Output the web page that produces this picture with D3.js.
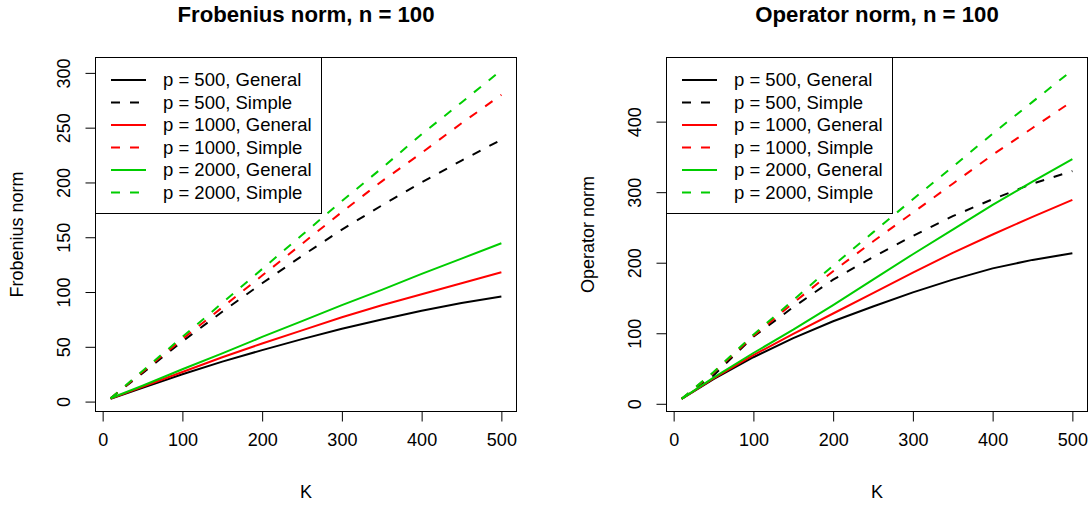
<!DOCTYPE html>
<html>
<head>
<meta charset="utf-8">
<script src="https://cdn.jsdelivr.net/npm/d3@7"></script>
<style>
  html, body { margin: 0; padding: 0; background: #fff; }
  svg { display: block; font-family: "Liberation Sans", Arial, Helvetica, sans-serif; }
</style>
</head>
<body>
<svg id="chart" width="1091" height="506"></svg>
<script>
// ---- data ----
const K = [10, 50, 100, 150, 200, 250, 300, 350, 400, 450, 500];

const seriesLabels = ["p = 500, General", "p = 500, Simple", "p = 1000, General",
                      "p = 1000, Simple", "p = 2000, General", "p = 2000, Simple"];
const seriesColors = ["#000000", "#000000", "#FF0000", "#FF0000", "#00CD00", "#00CD00"];
const seriesDashed = [false, true, false, true, false, true];

// Frobenius norm panel
const frobP500General  = [2.5, 12.5, 25, 36.5, 47, 57, 66.5, 75, 83, 90, 96];
const frobP500Simple   = [3, 26, 55, 82, 108, 133, 157, 179, 200, 220, 239];
const frobP1000General = [2.7, 13.5, 27, 40.5, 53, 65, 77, 88, 98, 108, 118];
const frobP1000Simple  = [3, 27, 57, 86, 115, 144, 173, 201, 227, 254, 280];
const frobP2000General = [3, 14.5, 29.5, 44, 59, 73.5, 88, 102, 116.5, 130.5, 144.5];
const frobP2000Simple  = [3, 28, 59, 90, 121, 152, 183, 213, 244, 273, 302.5];

// Operator norm panel
const opP500General  = [7, 35, 66, 93, 117, 138, 158, 176, 192, 204, 213.5];
const opP500Simple   = [7, 40, 95, 137, 176, 208, 238, 266, 290, 312, 330];
const opP1000General = [7, 36, 69, 99, 128, 157, 186, 214, 240, 265, 289];
const opP1000Simple  = [7, 44, 96, 143, 188, 230, 271, 312, 353, 391, 429];
const opP2000General = [7, 37, 72, 105, 140, 176, 212, 247, 282, 315, 347];
const opP2000Simple  = [7, 45, 98, 147, 196, 243, 290, 336, 383, 428, 473];

const xTicks = [0, 100, 200, 300, 400, 500];
const frobYTicks = [0, 50, 100, 150, 200, 250, 300];
const opYTicks = [0, 100, 200, 300, 400];

const panels = [
  { title: "Frobenius norm, n = 100", yLabel: "Frobenius norm", yTicks: frobYTicks,
    series: [frobP500General, frobP500Simple, frobP1000General, frobP1000Simple, frobP2000General, frobP2000Simple],
    box: { x0: 95, x1: 517, y0: 57, y1: 412 } },
  { title: "Operator norm, n = 100", yLabel: "Operator norm", yTicks: opYTicks,
    series: [opP500General, opP500Simple, opP1000General, opP1000Simple, opP2000General, opP2000Simple],
    box: { x0: 666, x1: 1088, y0: 57, y1: 412 } }
];

const svg = d3.select("#chart");
const FS = 18;
const FSL = 18.5;
const DASH = "9,10";

function rlim(vals) {
  const lo = d3.min(vals), hi = d3.max(vals), r = hi - lo;
  return [lo - 0.04 * r, hi + 0.04 * r];
}

panels.forEach(p => {
  const b = p.box;
  const g = svg.append("g");
  const x = d3.scaleLinear().domain(rlim(K)).range([b.x0, b.x1]);
  const y = d3.scaleLinear().domain(rlim(p.series.flat())).range([b.y1, b.y0]);

  // lines
  const line = d3.line().x((d, i) => x(K[i])).y(d => y(d));
  p.series.forEach((s, i) => {
    g.append("path")
      .datum(s)
      .attr("d", line)
      .attr("fill", "none")
      .attr("stroke", seriesColors[i])
      .attr("stroke-width", 2)
      .attr("stroke-linejoin", "round")
      .attr("stroke-dasharray", seriesDashed[i] ? DASH : null);
  });

  // box
  g.append("rect")
    .attr("x", b.x0 + 0.5).attr("y", b.y0 + 0.5)
    .attr("width", b.x1 - b.x0 - 1).attr("height", b.y1 - b.y0 - 1)
    .attr("fill", "none").attr("stroke", "#000").attr("stroke-width", 1);

  // x axis
  const xa = d3.axisBottom(x).tickValues(xTicks).tickSize(10).tickPadding(12).tickFormat(d3.format("d"));
  const xg = g.append("g").attr("transform", `translate(0,${b.y1 - 0.5})`).call(xa);
  xg.select(".domain").attr("d", `M${x(xTicks[0])},0H${x(xTicks[xTicks.length - 1])}`);
  xg.selectAll("text").attr("font-size", FS).attr("font-family", null).attr("fill", "#000");
  xg.selectAll("line, path").attr("stroke", "#000");

  // y axis
  const ya = d3.axisLeft(y).tickValues(p.yTicks).tickSize(10).tickPadding(0).tickFormat(d3.format("d"));
  const yg = g.append("g").attr("transform", `translate(${b.x0 + 0.5},0)`).call(ya);
  yg.select(".domain").attr("d", `M0,${y(p.yTicks[0])}V${y(p.yTicks[p.yTicks.length - 1])}`);
  yg.selectAll("line, path").attr("stroke", "#000");
  yg.selectAll("text")
    .attr("font-size", FS).attr("font-family", null).attr("fill", "#000")
    .attr("x", null).attr("dy", null)
    .attr("text-anchor", "middle")
    .attr("transform", "translate(-26,0) rotate(-90)");

  // titles
  g.append("text")
    .attr("x", (b.x0 + b.x1) / 2).attr("y", 22)
    .attr("text-anchor", "middle").attr("font-weight", "bold").attr("font-size", FSL * 1.2)
    .text(p.title);
  g.append("text")
    .attr("x", (b.x0 + b.x1) / 2).attr("y", 498)
    .attr("text-anchor", "middle").attr("font-size", FS)
    .text("K");
  g.append("text")
    .attr("transform", `translate(${b.x0 - 72},${(b.y0 + b.y1) / 2}) rotate(-90)`)
    .attr("text-anchor", "middle").attr("font-size", FS)
    .text(p.yLabel);

  // legend
  const lw = 226, lh = 156, rowH = 22.5;
  const lg = g.append("g").attr("transform", `translate(${b.x0},${b.y0})`);
  lg.append("rect").attr("x", 0.5).attr("y", 0.5).attr("width", lw).attr("height", lh)
    .attr("fill", "#fff").attr("stroke", "#000").attr("stroke-width", 1);
  seriesLabels.forEach((lab, i) => {
    const cy = 23 + i * rowH;
    lg.append("line").attr("x1", 16).attr("x2", 51).attr("y1", cy).attr("y2", cy)
      .attr("stroke", seriesColors[i]).attr("stroke-width", 2)
      .attr("stroke-dasharray", seriesDashed[i] ? DASH : null);
    lg.append("text").attr("x", 68).attr("y", cy).attr("dy", "0.35em")
      .attr("font-size", FSL).text(lab);
  });
});
</script>
</body>
</html>
